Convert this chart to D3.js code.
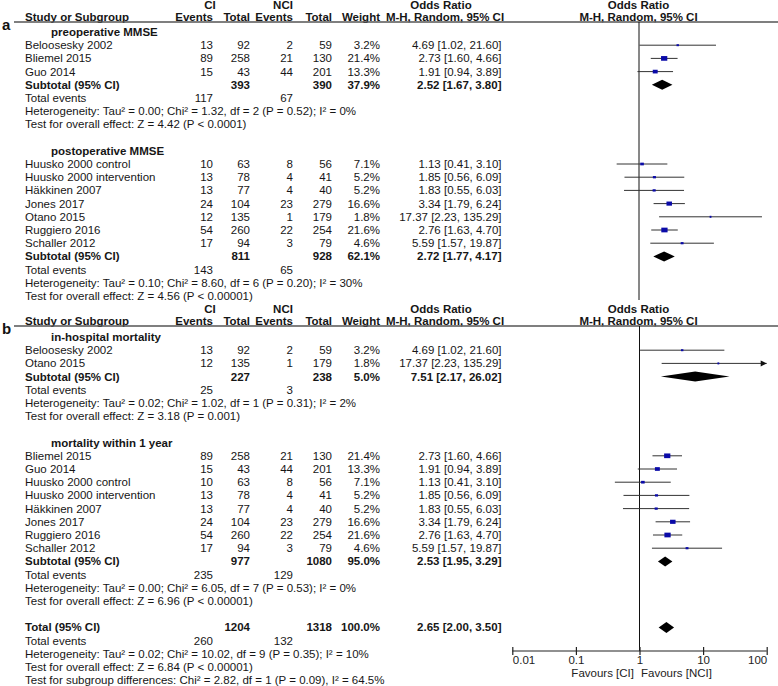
<!DOCTYPE html>
<html><head><meta charset="utf-8">
<script src="https://cdn.jsdelivr.net/npm/d3@7"></script>
<style>
body{margin:0;background:#fff;}
svg{display:block;font-family:"Liberation Sans",Arial,sans-serif;}
</style></head><body>
<svg id="c" width="778" height="686"></svg>
<script>
// ---- data ----
// [study, CI events, CI total, NCI events, NCI total, weight %, OR, lower, upper]
const preopMMSE = [
  ["Beloosesky 2002",13,92,2,59,3.2,4.69,1.02,21.60],
  ["Bliemel 2015",89,258,21,130,21.4,2.73,1.60,4.66],
  ["Guo 2014",15,43,44,201,13.3,1.91,0.94,3.89]
];
const postopMMSE = [
  ["Huusko 2000 control",10,63,8,56,7.1,1.13,0.41,3.10],
  ["Huusko 2000 intervention",13,78,4,41,5.2,1.85,0.56,6.09],
  ["Häkkinen 2007",13,77,4,40,5.2,1.83,0.55,6.03],
  ["Jones 2017",24,104,23,279,16.6,3.34,1.79,6.24],
  ["Otano 2015",12,135,1,179,1.8,17.37,2.23,135.29],
  ["Ruggiero 2016",54,260,22,254,21.6,2.76,1.63,4.70],
  ["Schaller 2012",17,94,3,79,4.6,5.59,1.57,19.87]
];
const inHospitalMortality = [
  ["Beloosesky 2002",13,92,2,59,3.2,4.69,1.02,21.60],
  ["Otano 2015",12,135,1,179,1.8,17.37,2.23,135.29]
];
const mortality1Year = [
  ["Bliemel 2015",89,258,21,130,21.4,2.73,1.60,4.66],
  ["Guo 2014",15,43,44,201,13.3,1.91,0.94,3.89],
  ["Huusko 2000 control",10,63,8,56,7.1,1.13,0.41,3.10],
  ["Huusko 2000 intervention",13,78,4,41,5.2,1.85,0.56,6.09],
  ["Häkkinen 2007",13,77,4,40,5.2,1.83,0.55,6.03],
  ["Jones 2017",24,104,23,279,16.6,3.34,1.79,6.24],
  ["Ruggiero 2016",54,260,22,254,21.6,2.76,1.63,4.70],
  ["Schaller 2012",17,94,3,79,4.6,5.59,1.57,19.87]
];
// [label, CI total, NCI total, weight, OR, lower, upper, CI events, NCI events]
const preopSubtotal  = ["Subtotal (95% CI)",393,390,37.9,2.52,1.67,3.80,117,67];
const postopSubtotal = ["Subtotal (95% CI)",811,928,62.1,2.72,1.77,4.17,143,65];
const inHospSubtotal = ["Subtotal (95% CI)",227,238,5.0,7.51,2.17,26.02,25,3];
const mort1ySubtotal = ["Subtotal (95% CI)",977,1080,95.0,2.53,1.95,3.29,235,129];
const overallTotal   = ["Total (95% CI)",1204,1318,100.0,2.65,2.00,3.50,260,132];
const preopStats  = ["Heterogeneity: Tau² = 0.00; Chi² = 1.32, df = 2 (P = 0.52); I² = 0%","Test for overall effect: Z = 4.42 (P < 0.0001)"];
const postopStats = ["Heterogeneity: Tau² = 0.10; Chi² = 8.60, df = 6 (P = 0.20); I² = 30%","Test for overall effect: Z = 4.56 (P < 0.00001)"];
const inHospStats = ["Heterogeneity: Tau² = 0.02; Chi² = 1.02, df = 1 (P = 0.31); I² = 2%","Test for overall effect: Z = 3.18 (P = 0.001)"];
const mort1yStats = ["Heterogeneity: Tau² = 0.00; Chi² = 6.05, df = 7 (P = 0.53); I² = 0%","Test for overall effect: Z = 6.96 (P < 0.00001)"];
const totalStats  = ["Heterogeneity: Tau² = 0.02; Chi² = 10.02, df = 9 (P = 0.35); I² = 10%","Test for overall effect: Z = 6.84 (P < 0.00001)","Test for subgroup differences: Chi² = 2.82, df = 1 (P = 0.09), I² = 64.5%"];
const axisTicks = [0.01,0.1,1,10,100];
const axisTickLabels = ["0.01","0.1","1","10","100"];
const favourLabels = ["Favours [CI]","Favours [NCI]"];

// ---- drawing ----
const svg = d3.select("#c");
const TXT = "#161616", FS = 11.5, STEP = 13.2;
const col = {name:25, sub:51, ciE:213, ciT:250, nE:293, nT:332, w:380, or:501.5};
const xA = d3.scaleLog().domain([0.01,100]).range([523.6,754.4]);
const xB = d3.scaleLog().domain([0.01,100]).range([512.3,766.7]);
const fmt2 = d3.format(".2f");
const orTxt = (o,l,h)=>`${fmt2(o)} [${fmt2(l)}, ${fmt2(h)}]`;

function t(g,x,y,s,opt={}){
  return g.append("text").attr("x",x).attr("y",y).attr("dy","0.35em")
    .attr("font-size",opt.fs||FS).attr("fill",TXT)
    .attr("font-weight",opt.bold?"bold":"normal")
    .attr("text-anchor",opt.anchor||"start").text(s);
}

function header(g, top, letter){
  const y1 = top+5, y2 = top+17, ly = top+22;
  t(g,210,y1,"CI",{bold:1,anchor:"middle"});
  t(g,283,y1,"NCI",{bold:1,anchor:"middle"});
  t(g,441,y1,"Odds Ratio",{bold:1,anchor:"middle"});
  t(g,638.5,y1,"Odds Ratio",{bold:1,anchor:"middle"});
  t(g,col.name,y2,"Study or Subgroup",{bold:1});
  t(g,col.ciE,y2,"Events",{bold:1,anchor:"end"});
  t(g,col.ciT,y2,"Total",{bold:1,anchor:"end"});
  t(g,col.nE,y2,"Events",{bold:1,anchor:"end"});
  t(g,col.nT,y2,"Total",{bold:1,anchor:"end"});
  t(g,col.w,y2,"Weight",{bold:1,anchor:"end"});
  t(g,445,y2,"M-H, Random, 95% CI",{bold:1,anchor:"middle"});
  t(g,638.5,y2,"M-H, Random, 95% CI",{bold:1,anchor:"middle"});
  g.append("line").attr("x1",14).attr("x2",778).attr("y1",ly).attr("y2",ly)
    .attr("stroke","#555").attr("stroke-width",1.5);
  g.append("text").attr("x",2).attr("y",ly+8).attr("font-size",15).attr("font-weight","bold")
    .attr("fill","#111").text(letter);
}

function studyRow(g,x,y,d){
  t(g,col.name,y,d[0]);
  t(g,col.ciE,y,d[1],{anchor:"end"});
  t(g,col.ciT,y,d[2],{anchor:"end"});
  t(g,col.nE,y,d[3],{anchor:"end"});
  t(g,col.nT,y,d[4],{anchor:"end"});
  t(g,col.w,y,d[5].toFixed(1)+"%",{anchor:"end"});
  t(g,col.or,y,orTxt(d[6],d[7],d[8]),{anchor:"end"});
  const [dmin,dmax] = x.domain();
  const clipped = d[8]>dmax && x===xB;
  const hi = clipped ? dmax : d[8];
  g.append("line").attr("x1",x(Math.max(d[7],dmin))).attr("x2",x(hi))
    .attr("y1",y).attr("y2",y).attr("stroke","#333").attr("stroke-width",1);
  if(clipped){
    const xe = x(dmax);
    g.append("path").attr("d",`M${xe},${y} L${xe-6},${y-3} L${xe-6},${y+3} Z`).attr("fill","#111");
  }
  const w = 1.35*Math.sqrt(d[5]), h = Math.max(2,w*0.75);
  g.append("rect").attr("x",x(d[6])-w/2).attr("y",y-h/2).attr("width",w).attr("height",h)
    .attr("fill","#0a0aa8");
}

function subtotalRow(g,x,y,s,diamondH){
  t(g,col.name,y,s[0],{bold:1});
  t(g,col.ciT,y,s[1],{bold:1,anchor:"end"});
  t(g,col.nT,y,s[2],{bold:1,anchor:"end"});
  t(g,col.w,y,s[3].toFixed(1)+"%",{bold:1,anchor:"end"});
  t(g,col.or,y,orTxt(s[4],s[5],s[6]),{bold:1,anchor:"end"});
  const hh = diamondH/2;
  g.append("path").attr("d",`M${x(s[5])},${y} L${x(s[4])},${y-hh} L${x(s[6])},${y} L${x(s[4])},${y+hh} Z`)
    .attr("fill","#000");
}

function eventsRow(g,y,s){
  t(g,col.name,y,"Total events");
  t(g,col.ciE,y,s[7],{anchor:"end"});
  t(g,col.nE,y,s[8],{anchor:"end"});
}

function subgroup(g,x,y0,title,studies,sub,stats){
  let r=0; const Y=()=>y0+STEP*(r++);
  t(g,col.sub,Y(),title,{bold:1});
  studies.forEach(d=>studyRow(g,x,Y(),d));
  subtotalRow(g,x,Y(),sub,10);
  eventsRow(g,Y(),sub);
  stats.forEach(s=>t(g,col.name,Y(),s));
  return y0+STEP*r;
}

// Panel a
const ga = svg.append("g");
header(ga,0,"a");
ga.append("line").attr("x1",xA(1)).attr("x2",xA(1)).attr("y1",22).attr("y2",300).attr("stroke","#111");
let ya = 32;
ya = subgroup(ga,xA,ya,"preoperative MMSE",preopMMSE,preopSubtotal,preopStats);
ya += STEP;
subgroup(ga,xA,ya,"postoperative MMSE",postopMMSE,postopSubtotal,postopStats);

// Panel b
const gb = svg.append("g");
const topB = 304;
header(gb,topB,"b");
const axisY = 651;
gb.append("line").attr("x1",xB(1)).attr("x2",xB(1)).attr("y1",topB+22).attr("y2",axisY).attr("stroke","#111");
let yb = 337;
yb = subgroup(gb,xB,yb,"in-hospital mortality",inHospitalMortality,inHospSubtotal,inHospStats);
yb += STEP;
yb = subgroup(gb,xB,yb,"mortality within 1 year",mortality1Year,mort1ySubtotal,mort1yStats);
yb += STEP;
// overall
subtotalRow(gb,xB,yb,overallTotal,11); yb+=STEP;
eventsRow(gb,yb,overallTotal); yb+=STEP;
totalStats.forEach(s=>{t(gb,col.name,yb,s); yb+=STEP;});

// axis
const ax = gb.append("g").attr("transform",`translate(0,${axisY})`)
  .call(d3.axisBottom(xB).tickValues(axisTicks).tickSize(4).tickFormat((d,i)=>axisTickLabels[i]));
ax.select(".domain").attr("stroke","#222").attr("stroke-width",1.2).attr("d",`M${xB(0.01)},0H${xB(100)}`);
ax.selectAll(".tick line").attr("y1",-4).attr("y2",4).attr("stroke","#222").attr("stroke-width",1.2);
ax.selectAll(".tick text").attr("y",9).attr("dy","0.35em").attr("font-size",FS)
  .attr("font-family","Liberation Sans, Arial, sans-serif").attr("fill","#222")
  .attr("text-anchor",(d,i)=> i===0?"start":(i===axisTicks.length-1?"end":"middle"));
t(gb,xB(1)-5.5,672.5,favourLabels[0],{anchor:"end"}).attr("fill","#222");
t(gb,xB(1)+1.5,672.5,favourLabels[1]).attr("fill","#222");
</script></body></html>
